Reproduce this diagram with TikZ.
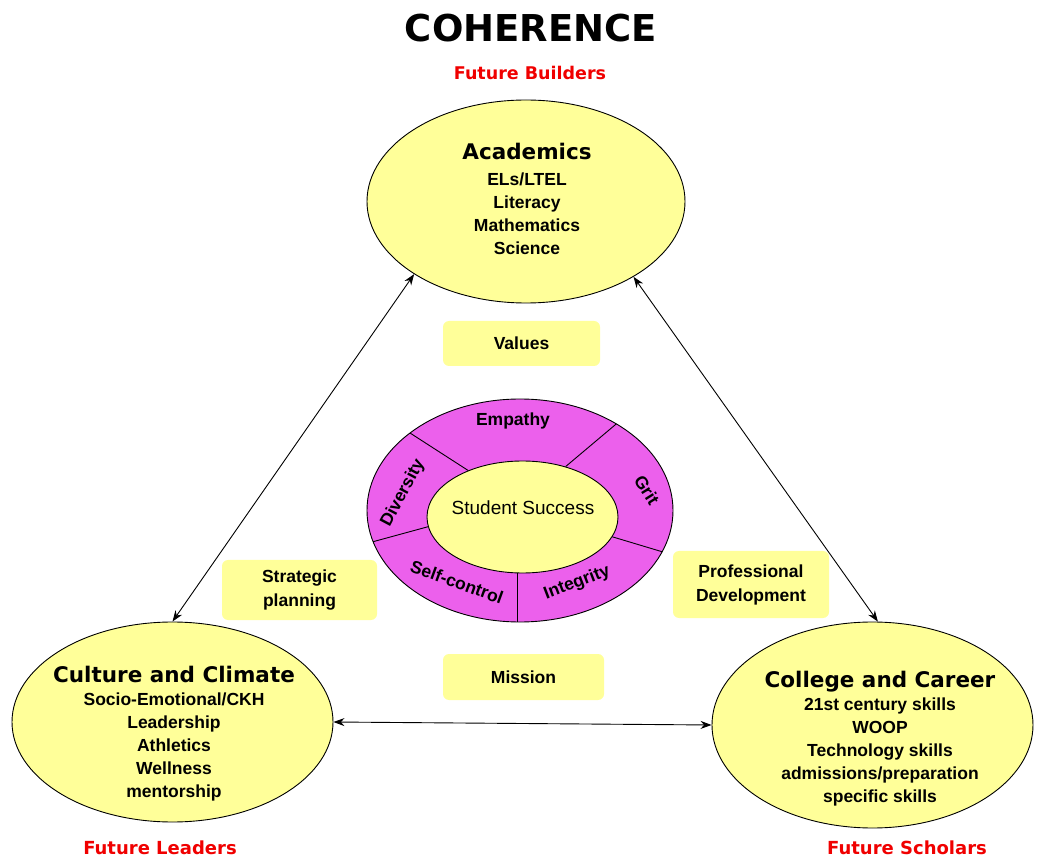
\documentclass[tikz,border=0pt]{standalone}
\usepackage{fontspec}
\setmainfont{Liberation Sans}
\newfontfamily\verd{DejaVu Sans}
\usetikzlibrary{shapes.geometric,arrows.meta,calc}
\definecolor{lyel}{RGB}{255,255,153}
\definecolor{mag}{RGB}{236,96,236}
\definecolor{fred}{RGB}{240,0,0}
\begin{document}
\begin{tikzpicture}[x=1pt,y=-1pt,
  bigell/.style={ellipse,draw=black,line width=0.9pt,fill=lyel,inner sep=0pt},
  sub/.style={font=\fontsize{17.5}{23}\selectfont\bfseries,align=center,inner sep=0pt},
  fut/.style={font=\verd\bfseries\fontsize{18}{21}\selectfont,text=fred,inner sep=0pt},
  box/.style={fill=lyel,rounded corners=6pt,inner sep=0pt,align=center,font=\fontsize{17.5}{24}\selectfont\bfseries},
  ringlbl/.style={font=\fontsize{17.5}{20}\selectfont\bfseries,inner sep=0pt},
  arr/.style={{Stealth[length=11pt,width=8pt]}-{Stealth[length=11pt,width=8pt]},line width=0.9pt},
  divider/.style={line width=0.9pt}]
\useasboundingbox (0,0) rectangle (1037,858);

% titles
\node[font=\verd\bfseries\fontsize{37}{41}\selectfont] (title) at (531,28) {COHERENCE};
\node[font=\verd\bfseries\fontsize{17.5}{21}\selectfont,text=fred] (fb) at (530,73) {Future Builders};
\node[fut] (fl) at (160,848) {Future Leaders};
\node[fut] (fs) at (907,848) {Future Scholars};

% big ellipses
\node[bigell,minimum width=318pt,minimum height=203pt] (acad) at (526,201.5) {};
\node[bigell,minimum width=321pt,minimum height=200pt] (cult) at (172.5,722) {};
\node[bigell,minimum width=321pt,minimum height=206pt] (coll) at (872.5,725) {};

\node[sub] (acadtxt) at (527,199) {{\verd\bfseries\fontsize{21.5}{25}\selectfont Academics}\\[3pt]ELs/LTEL\\Literacy\\Mathematics\\Science};
\node[sub] (culttxt) at (174,734) {{\verd\bfseries\fontsize{21.5}{25}\selectfont Culture and Climate}\\Socio-Emotional/CKH\\Leadership\\Athletics\\Wellness\\mentorship};
\node[sub] (colltxt) at (880,739) {{\verd\bfseries\fontsize{21.5}{25}\selectfont College and Career}\\21st century skills\\WOOP\\Technology skills\\admissions/preparation\\specific skills};

% arrows
\draw[arr] (acad.213.4) -- (cult.north);
\draw[arr] (acad.325.5) -- (coll.87.5);
\draw[arr] (cult.east) -- (coll.west);

% boxes
\node[box,minimum width=157pt,minimum height=45pt] (values) at (521.5,343.5) {Values};
\node[box,minimum width=155pt,minimum height=60pt] (strat) at (299.5,590) {Strategic\\planning};
\node[box,minimum width=156pt,minimum height=67pt] (prof) at (751,584.5) {Professional\\Development};
\node[box,minimum width=161pt,minimum height=46pt] (mission) at (523.5,677) {Mission};

% ring
\node[ellipse,draw=black,line width=0.9pt,fill=mag,minimum width=306pt,minimum height=223pt,inner sep=0pt] (ring) at (520,510.5) {};
\begin{scope}
  \clip (520,510.5) ellipse [x radius=153, y radius=111.5];
  \draw[divider] ($(455,462)!-0.3!(410,433)$) -- ($(455,462)!1.3!(410,433)$);
  \draw[divider] ($(577,457)!-0.3!(615,425)$) -- ($(577,457)!1.3!(615,425)$);
  \draw[divider] ($(613,537)!-0.3!(663,552)$) -- ($(613,537)!1.3!(663,552)$);
  \draw[divider] (517,560) -- (517,630);
  \draw[divider] ($(427,527)!-0.3!(372,542)$) -- ($(427,527)!1.3!(372,542)$);
\end{scope}
\node[ellipse,draw=black,line width=0.9pt,fill=lyel,minimum width=191pt,minimum height=112pt,inner sep=0pt] (core) at (522.5,517) {};
\node[font=\fontsize{19}{22}\selectfont,inner sep=0pt] (sstxt) at (523,508) {Student Success};

\node[ringlbl] (emp) at (513,421) {Empathy};
\node[ringlbl,rotate=-58] (grit) at (647,490) {Grit};
\node[ringlbl,rotate=62] (div) at (403,493) {Diversity};
\node[ringlbl,rotate=-20] (self) at (457,582) {Self-control};
\node[ringlbl,rotate=21] (integ) at (577,583) {Integrity};
\end{tikzpicture}
\end{document}
